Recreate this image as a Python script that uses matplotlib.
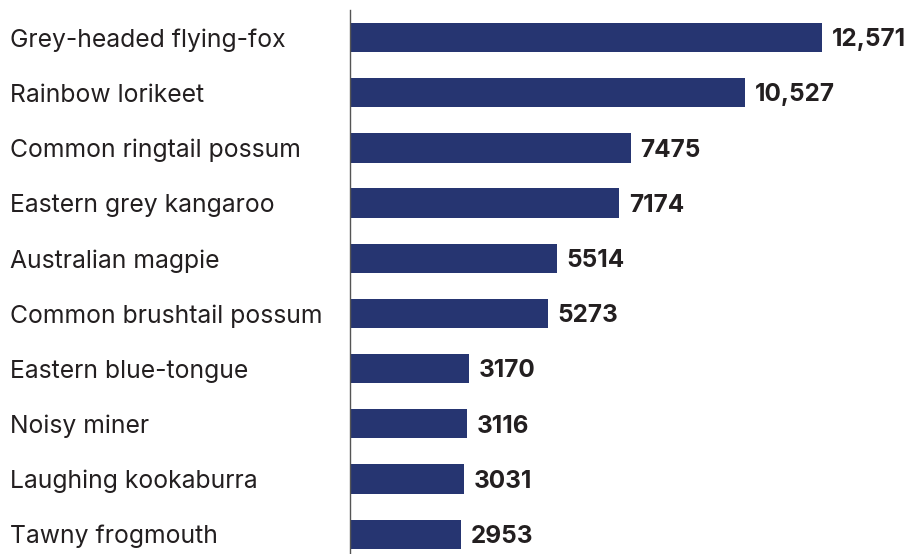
import matplotlib.pyplot as plt

species = [
    "Grey-headed flying-fox",
    "Rainbow lorikeet",
    "Common ringtail possum",
    "Eastern grey kangaroo",
    "Australian magpie",
    "Common brushtail possum",
    "Eastern blue-tongue",
    "Noisy miner",
    "Laughing kookaburra",
    "Tawny frogmouth",
]
counts = [12571, 10527, 7475, 7174, 5514, 5273, 3170, 3116, 3031, 2953]
value_labels = ["12,571", "10,527", "7475", "7174", "5514", "5273", "3170", "3116", "3031", "2953"]

bar_color = "#263571"
text_color = "#231f20"

fig = plt.figure(figsize=(9.2, 5.54), dpi=100)
ax = fig.add_axes([350 / 920, 0, 570 / 920, 544 / 554])

pos = list(range(len(species)))
ax.barh(pos, counts, height=0.53, color=bar_color)

for y, v, lab in zip(pos, counts, value_labels):
    ax.text(v + 260, y + 0.04, lab, va="center", ha="left", fontsize=17.5,
            fontweight="bold", color=text_color, family="Inter")

ax.set_xlim(0, 15180)
ax.set_ylim(9.36, -0.5)
ax.set_xticks([])
ax.set_yticks(pos)
ax.set_yticklabels(species, fontsize=17.8, color=text_color, family="Inter")
ax.tick_params(axis="y", length=0, pad=340 * 72 / 100)
for t in ax.get_yticklabels():
    t.set_horizontalalignment("left")

for side in ["top", "right", "bottom"]:
    ax.spines[side].set_visible(False)
ax.spines["left"].set_color("#555555")
ax.spines["left"].set_linewidth(1.0)

fig.savefig("out.png", dpi=100)
